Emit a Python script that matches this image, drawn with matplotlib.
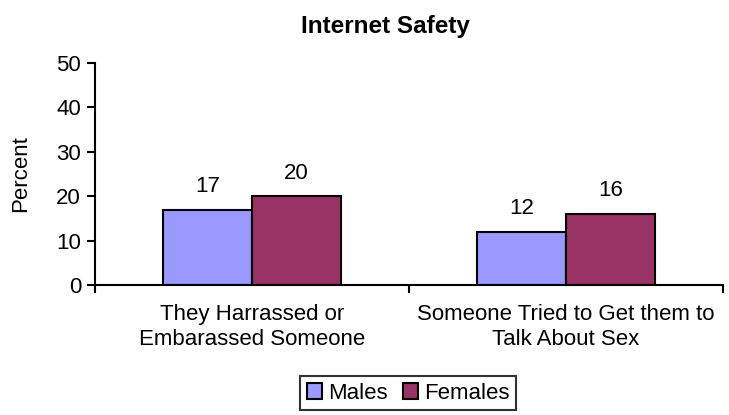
import numpy as np
import matplotlib.pyplot as plt
from matplotlib.patches import Patch

plt.rcParams['font.family'] = ['Liberation Sans', 'DejaVu Sans']

categories = ["They Harrassed or\nEmbarassed Someone", "Someone Tried to Get them to\nTalk About Sex"]
males = [17, 12]
females = [20, 16]
series_names = ["Males", "Females"]
colors = ["#9999FF", "#993366"]

fs = 16
fig = plt.figure(figsize=(7.29, 4.15), dpi=100)
ax = fig.add_axes([95/729, 1 - 285/415, 628/729, 222/415])

x = np.arange(len(categories))
w = 0.283
b1 = ax.bar(x - w/2, males, w, color=colors[0], edgecolor="black", linewidth=1.5)
b2 = ax.bar(x + w/2, females, w, color=colors[1], edgecolor="black", linewidth=1.5)

for bars, vals in ((b1, males), (b2, females)):
    for r, v in zip(bars, vals):
        ax.annotate(str(v), (r.get_x() + r.get_width()/2, v), xytext=(0, 9),
                    textcoords="offset points", ha="center", va="bottom", fontsize=fs)

ax.set_xlim(-0.5, 1.5)
ax.set_ylim(0, 50)
ax.set_yticks(range(0, 51, 10))
ax.tick_params(axis="y", labelsize=fs, length=6, width=1.5, direction="out", pad=4)
ax.set_xticks([-0.5, 0.5, 1.5], minor=False)
ax.set_xticklabels([])
ax.set_xticks(x, minor=True)
ax.set_xticklabels(categories, minor=True, fontsize=fs, linespacing=1.2)
ax.tick_params(axis="x", which="major", length=6, width=1.5, direction="out")
ax.tick_params(axis="x", which="minor", length=0, pad=14)

for s in ("top", "right"):
    ax.spines[s].set_visible(False)
for s in ("left", "bottom"):
    ax.spines[s].set_linewidth(1.5)

ax.set_ylabel("Percent", fontsize=fs)
ax.yaxis.set_label_coords(21/729, 1 - 174/415, transform=fig.transFigure)
ax.yaxis.label.set_verticalalignment("center")
fig.text(385/729, 1 - 27/415, "Internet Safety", ha="center", va="center",
         fontsize=17.5, fontweight="bold")

handles = [Patch(facecolor=c, edgecolor="black", linewidth=1.5) for c in colors]
leg = fig.legend(handles, series_names, loc="center", bbox_to_anchor=(408/729, 1 - 393/415),
                 ncol=2, fontsize=fs, frameon=True, fancybox=False, edgecolor="black",
                 handlelength=0.7, handleheight=0.7, handletextpad=0.25, columnspacing=0.7,
                 borderpad=0.3, borderaxespad=0)
leg.get_frame().set_linewidth(1.5)

fig.savefig("out.png", dpi=100)
